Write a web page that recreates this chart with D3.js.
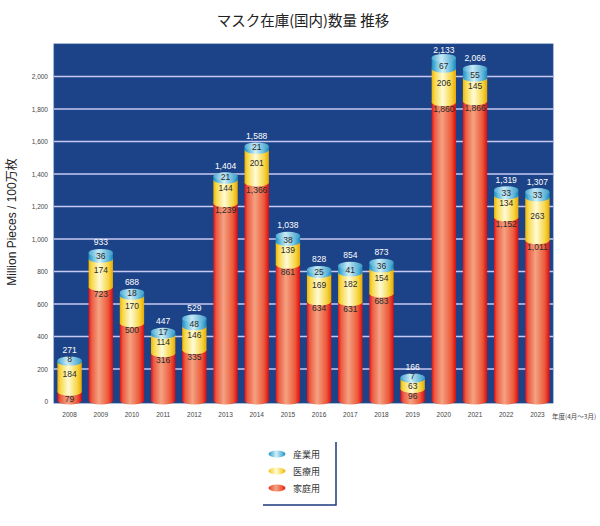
<!DOCTYPE html>
<html><head><meta charset="utf-8">
<script src="https://cdn.jsdelivr.net/npm/d3@7"></script>
<style>
body{margin:0;background:#fff;}
svg{display:block;}
</style></head>
<body>
<svg id="c" width="600" height="526"></svg>
<script>
const years = ["2008","2009","2010","2011","2012","2013","2014","2015","2016","2017","2018","2019","2020","2021","2022","2023"];
const home = [79,723,500,316,335,1239,1366,861,634,631,683,96,1860,1866,1152,1011];
const medical = [184,174,170,114,146,144,201,139,169,182,154,63,206,145,134,263];
const industrial = [8,36,18,17,48,21,21,38,25,41,36,7,67,55,33,33];
const totals = [271,933,688,447,529,1404,1588,1038,828,854,873,166,2133,2066,1319,1307];
const seriesNames = ["産業用","医療用","家庭用"];
const yTicks = [0,200,400,600,800,1000,1200,1400,1600,1800,2000];

const svg = d3.select("#c");
const L=54,R=553,T=44,B=401.5;
const x = d3.scaleBand().domain(years).range([L,R]).paddingInner(0.22).paddingOuter(0.11);
const y = d3.scaleLinear().domain([0,2200]).range([B,T]);
const yb = v => v>0 ? y(v)+3 : y(0)-1;   // drawn boundary (3D cap sits slightly below value)
const fmt = d3.format(",");
const FONT = "'Liberation Sans Narrow','Liberation Sans',Arial,sans-serif";

const defs = svg.append("defs");
function grad(id, stops){
  const g = defs.append("linearGradient").attr("id",id).attr("x1","0%").attr("x2","100%").attr("y1","0%").attr("y2","0%");
  stops.forEach(s=>g.append("stop").attr("offset",s[0]).attr("stop-color",s[1]));
}
grad("gRed",[[0,"#e2101a"],[0.12,"#ec5a40"],[0.42,"#f4a282"],[0.8,"#ec5a3a"],[1,"#dc0a12"]]);
grad("gYel",[[0,"#efb400"],[0.12,"#f7d84a"],[0.45,"#fffbd6"],[0.82,"#f6d440"],[1,"#eaa800"]]);
grad("gCya",[[0,"#1f8fc2"],[0.15,"#5ab8dc"],[0.45,"#d2f0f8"],[0.82,"#5ab4da"],[1,"#1a86ba"]]);
grad("gCap",[[0,"#4aa8d4"],[0.4,"#c6eaf6"],[1,"#3a9cc8"]]);

// title
svg.append("text").attr("x",303).attr("y",26).attr("text-anchor","middle")
  .attr("font-family","'Noto Sans CJK JP',sans-serif").attr("font-size",14.5).attr("fill","#222")
  .text("マスク在庫(国内)数量 推移");

// plot bg
svg.append("rect").attr("x",L).attr("y",T).attr("width",R-L).attr("height",403-T).attr("fill","#1c4388").attr("stroke","#26509a").attr("stroke-width",0.8);

// gridlines
svg.append("g").selectAll("line").data(yTicks.filter(d=>d>0)).join("line")
  .attr("x1",L).attr("x2",R).attr("y1",d=>y(d)).attr("y2",d=>y(d))
  .attr("stroke","#c6c8f2").attr("stroke-width",1.6);

// y axis
const yAxis = d3.axisLeft(y).tickValues(yTicks).tickFormat(fmt).tickSize(0).tickPadding(6);
const ya = svg.append("g").attr("transform",`translate(${L},0)`).call(yAxis);
ya.select(".domain").remove();
ya.selectAll("text").attr("font-family",FONT).attr("font-size",6.5).attr("fill","#444");

// x axis
const xAxis = d3.axisBottom(x).tickSize(0).tickPadding(0);
const xa = svg.append("g").attr("transform",`translate(0,412)`).call(xAxis);
xa.select(".domain").remove();
xa.selectAll("text").attr("font-family",FONT).attr("font-size",6.5).attr("fill","#444");
svg.append("text").attr("x",552).attr("y",418.5).attr("font-family","'Noto Sans CJK JP',sans-serif").attr("font-size",6.5).attr("fill","#444").text("年度(4月～3月)");

// y title
svg.append("text").attr("transform","translate(16,222) rotate(-90)").attr("text-anchor","middle")
  .attr("font-family","'Liberation Sans','Noto Sans CJK JP',sans-serif").attr("font-size",12).attr("fill","#222")
  .text("Million Pieces / 100万枚");

// bars
const bw = x.bandwidth(), ry = 4;
const rows = years.map((yr,i)=>({yr,i,segs:[
  {v:home[i],base:0,fill:"url(#gRed)"},
  {v:medical[i],base:home[i],fill:"url(#gYel)"},
  {v:industrial[i],base:home[i]+medical[i],fill:"url(#gCya)"}]}));
const bars = svg.append("g").selectAll("g").data(rows).join("g");
bars.each(function(d){
  const g = d3.select(this);
  const x0 = x(d.yr), cx = x0+bw/2;
  d.segs.forEach(s=>{
    const y0=yb(s.base), y1=yb(s.base+s.v);
    g.append("rect").attr("x",x0).attr("y",y1).attr("width",bw).attr("height",y0-y1).attr("fill",s.fill);
    g.append("ellipse").attr("cx",cx).attr("cy",y0).attr("rx",bw/2).attr("ry",ry).attr("fill",s.fill);
  });
  const top = yb(totals[d.i]);
  g.append("ellipse").attr("cx",cx).attr("cy",top).attr("rx",bw/2).attr("ry",ry).attr("fill","url(#gCap)");
  // labels
  const lab=(v,yy)=>g.append("text").attr("x",cx).attr("y",yy).attr("text-anchor","middle").attr("dominant-baseline","central")
    .attr("font-family",FONT).attr("font-size",8.5).attr("fill","#2a2a2a").text(fmt(v));
  const yInd = y(home[d.i]+medical[d.i])+0.5;
  const yMed = Math.max((y(home[d.i])+y(home[d.i]+medical[d.i]))/2, yInd+9.5);
  const yHome = Math.max(y(home[d.i])+10, yMed+10);
  lab(home[d.i], yHome);
  lab(medical[d.i], yMed);
  lab(industrial[d.i], yInd);
  g.append("text").attr("x",cx).attr("y",Math.max(top-10.5, T+6)).attr("text-anchor","middle").attr("dominant-baseline","central")
    .attr("font-family",FONT).attr("font-size",8.5).attr("fill","#fff").text(fmt(totals[d.i]));
});

// legend
const lg = svg.append("g");
lg.append("path").attr("d","M263,505 H336 V442").attr("fill","none").attr("stroke","#1c3a80").attr("stroke-width",1.5);
const lgFills = ["url(#gCya)","url(#gYel)","url(#gRed)"];
const lgY = [454,471,488];
seriesNames.forEach((n,i)=>{
  lg.append("ellipse").attr("cx",277).attr("cy",lgY[i]).attr("rx",8.5).attr("ry",3.5).attr("fill",lgFills[i]);
  lg.append("text").attr("x",293).attr("y",lgY[i]).attr("dominant-baseline","central")
    .attr("font-family","'Noto Sans CJK JP',sans-serif").attr("font-size",9).attr("fill","#333").text(n);
});
</script>
</body></html>
